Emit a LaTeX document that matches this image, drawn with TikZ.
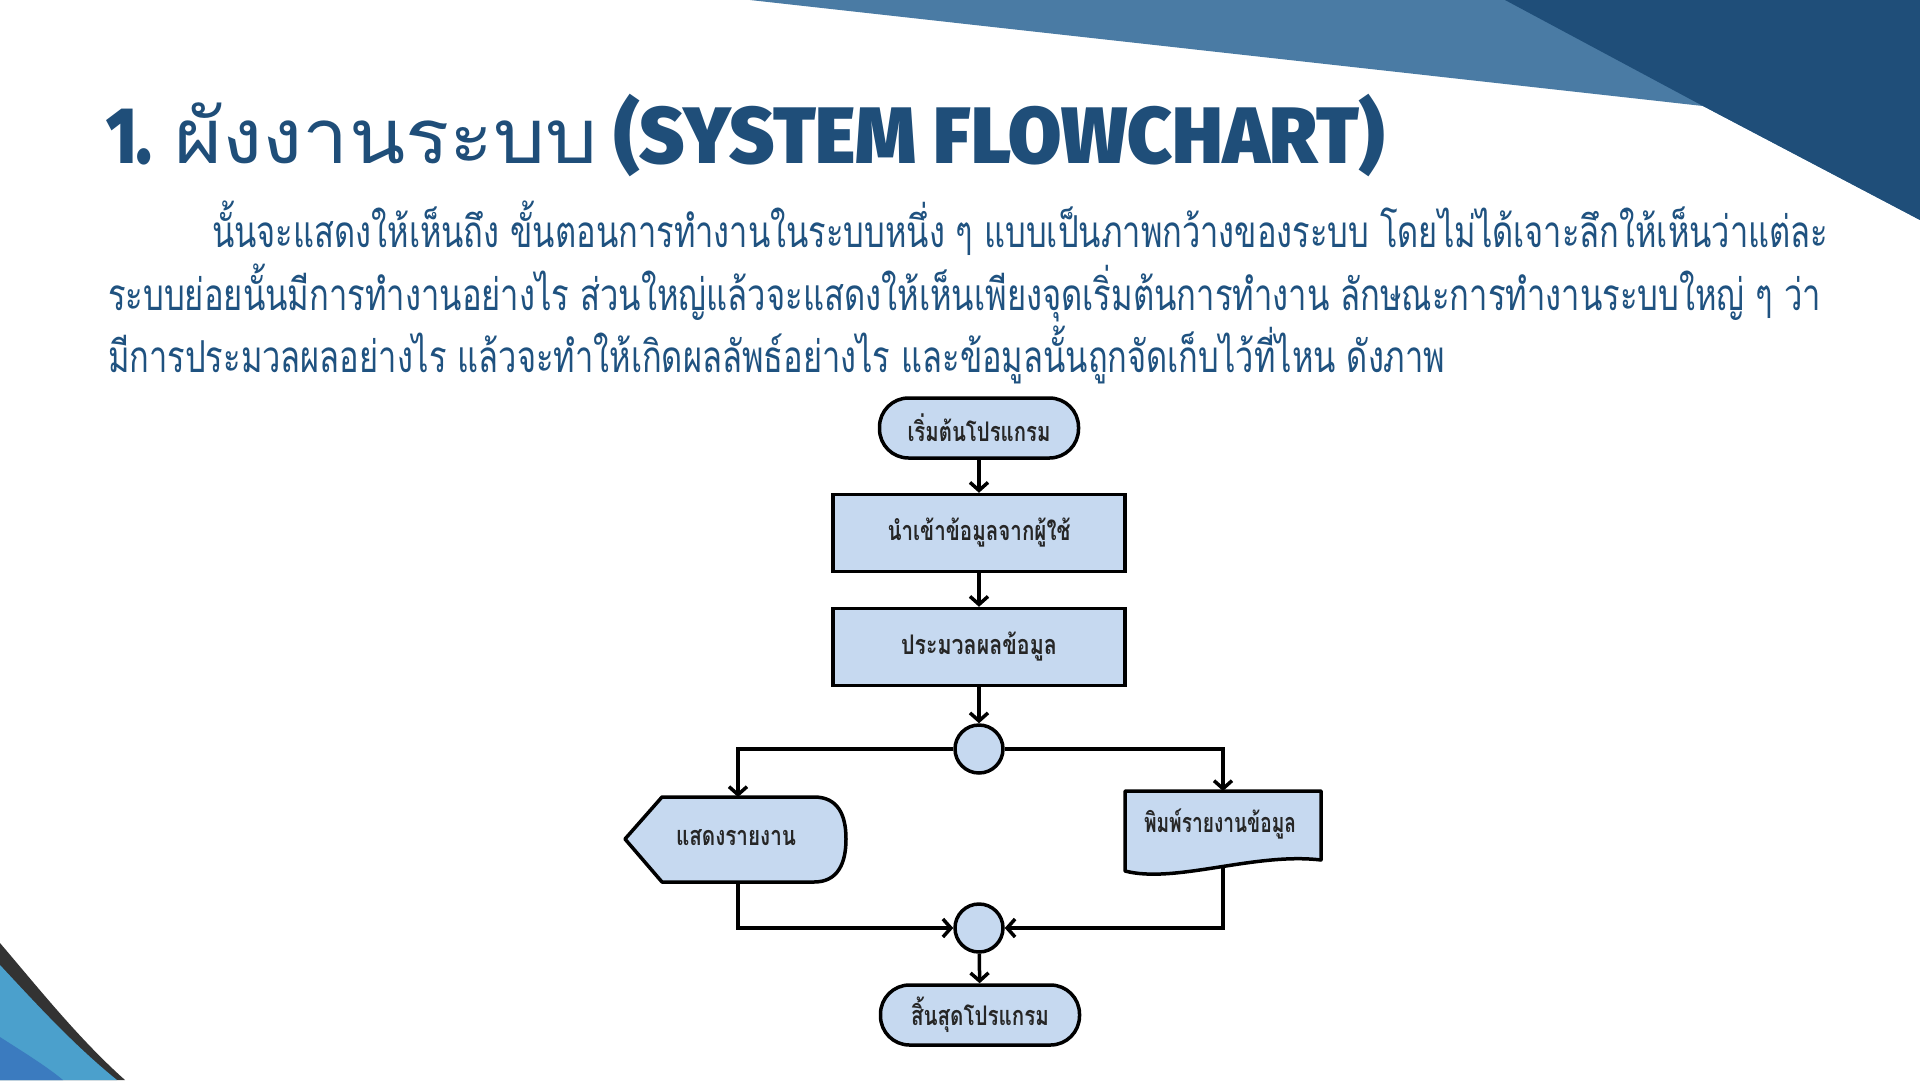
\documentclass[tikz,border=0pt]{standalone}
\usepackage{fontspec}
\usepackage{graphicx}
\usetikzlibrary{arrows.meta}
\newfontfamily\thaifont[Script=Thai]{Loma}
\IfFontExistsTF{Fira Sans Black}
 {\newfontfamily\latinbase{Fira Sans Black}\newcommand\latinheavy{\latinbase}}
 {\newfontfamily\latinbase{Fira Sans}\newcommand\latinheavy{\latinbase\bfseries}}
\newcommand\fitw[2]{\resizebox{#1}{\height}{#2}}
\definecolor{navy}{HTML}{1F5280}
\definecolor{navydark}{HTML}{1F4E79}
\definecolor{steel}{HTML}{4A7BA4}
\definecolor{boxfill}{HTML}{C6D9F0}
\definecolor{sky}{HTML}{4BA0CC}
\definecolor{cobalt}{HTML}{3B7BBF}
\definecolor{deepgray}{HTML}{333333}
\tikzset{
  body/.style={anchor=base west, inner sep=0, text=navy, font=\thaifont\fontsize{44}{44}\selectfont},
  titlepart/.style={anchor=base west, inner sep=0, text=navydark},
  fc/.style={draw=black, line width=3.5pt, fill=boxfill, text=black!85, inner sep=0,
    font=\thaifont\bfseries\fontsize{27}{27}\selectfont},
  term/.style={fc, rounded corners=29pt, minimum width=199pt, minimum height=60pt},
  proc/.style={fc, minimum width=292pt, minimum height=77pt},
  joint/.style={fc, circle, minimum size=48pt},
  shapeline/.style={draw=black, line width=3.5pt, fill=boxfill, line join=round},
  label/.style={inner sep=0, text=black!85, font=\thaifont\bfseries\fontsize{27}{27}\selectfont},
  arr/.style={line width=3.5pt, -{Straight Barb[length=8pt,width=18pt]}},
}
\begin{document}
\begin{tikzpicture}[x=1pt,y=-1pt]
\useasboundingbox (0,0) rectangle (1920,1080);
\fill[white] (0,0) rectangle (1920,1080);
% top-right decoration
\fill[steel] (750,0) -- (1703,106) -- (1920,220) -- (1920,0) -- cycle;
\fill[navydark] (1505,0) -- (1703,106) -- (1920,220) -- (1920,0) -- cycle;
% bottom-left decoration
\fill[deepgray] (0,943) .. controls (40,990) and (80,1040) .. (125,1080) -- (0,1080) -- cycle;
\fill[sky] (0,965) .. controls (40,1008) and (75,1046) .. (117,1080) -- (0,1080) -- cycle;
\fill[cobalt] (0,1037) .. controls (20,1050) and (45,1065) .. (63,1080) -- (0,1080) -- cycle;
% title
\node[titlepart, font=\latinheavy\fontsize{80}{80}\selectfont] (tnum) at (106,163) {\fitw{46pt}{1.}};
\node[titlepart, font=\thaifont\fontsize{76}{76}\selectfont] (tthai) at (174,163) {\fitw{424pt}{ผังงานระบบ}};
\node[titlepart, font=\latinheavy\fontsize{80}{80}\selectfont] (tlatin) at (614,163) {\fitw{770pt}{(SYSTEM FLOWCHART)}};
% body text
\node[body] (p1) at (212,247) {\fitw{1616pt}{นั้นจะแสดงให้เห็นถึง ขั้นตอนการทำงานในระบบหนึ่ง ๆ แบบเป็นภาพกว้างของระบบ โดยไม่ได้เจาะลึกให้เห็นว่าแต่ละ}};
\node[body] (p2) at (108,310) {\fitw{1713pt}{ระบบย่อยนั้นมีการทำงานอย่างไร ส่วนใหญ่แล้วจะแสดงให้เห็นเพียงจุดเริ่มต้นการทำงาน ลักษณะการทำงานระบบใหญ่ ๆ ว่า}};
\node[body] (p3) at (108,372) {\fitw{1337pt}{มีการประมวลผลอย่างไร แล้วจะทำให้เกิดผลลัพธ์อย่างไร และข้อมูลนั้นถูกจัดเก็บไว้ที่ไหน ดังภาพ}};
% flowchart shapes
\node[term] (start) at (979,428) {\fitw{143pt}{เริ่มต้นโปรแกรม}};
\node[proc] (input) at (979,533) {\fitw{183pt}{นำเข้าข้อมูลจากผู้ใช้}};
\node[proc] (process) at (979,647) {\fitw{156pt}{ประมวลผลข้อมูล}};
\node[joint] (c1) at (979,749) {};
\node[joint] (c2) at (979,928) {};
\node[term] (end) at (980,1015) {\fitw{138pt}{สิ้นสุดโปรแกรม}};
% display shape
\draw[shapeline] (662,797) -- (814,797) .. controls (838,797) and (846,815) .. (846,839)
  .. controls (846,863) and (838,882) .. (814,882) -- (662,882) -- (625,839) -- cycle;
\node[label] (disp) at (736,838) {\fitw{120pt}{แสดงรายงาน}};
% document shape
\draw[shapeline] (1125,791) -- (1321,791) -- (1321,860) .. controls (1255,852) and (1175,884) .. (1125,871) -- cycle;
\node[label] (doc) at (1220,824) {\fitw{152pt}{พิมพ์รายงานข้อมูล}};
\coordinate (disptop) at (738,797);
\coordinate (dispbot) at (738,882);
\coordinate (doctop) at (1223,791);
\coordinate (docbot) at (1223,866);
% connectors
\draw[arr] (start) -- (input);
\draw[arr] (input) -- (process);
\draw[arr] (process) -- (c1);
\draw[arr] (c1.west) -| (disptop);
\draw[arr] (c1.east) -| (doctop);
\draw[arr] (dispbot) |- (c2.west);
\draw[arr] (docbot) |- (c2.east);
\draw[arr] (c2) -- (end);
\end{tikzpicture}
\end{document}
